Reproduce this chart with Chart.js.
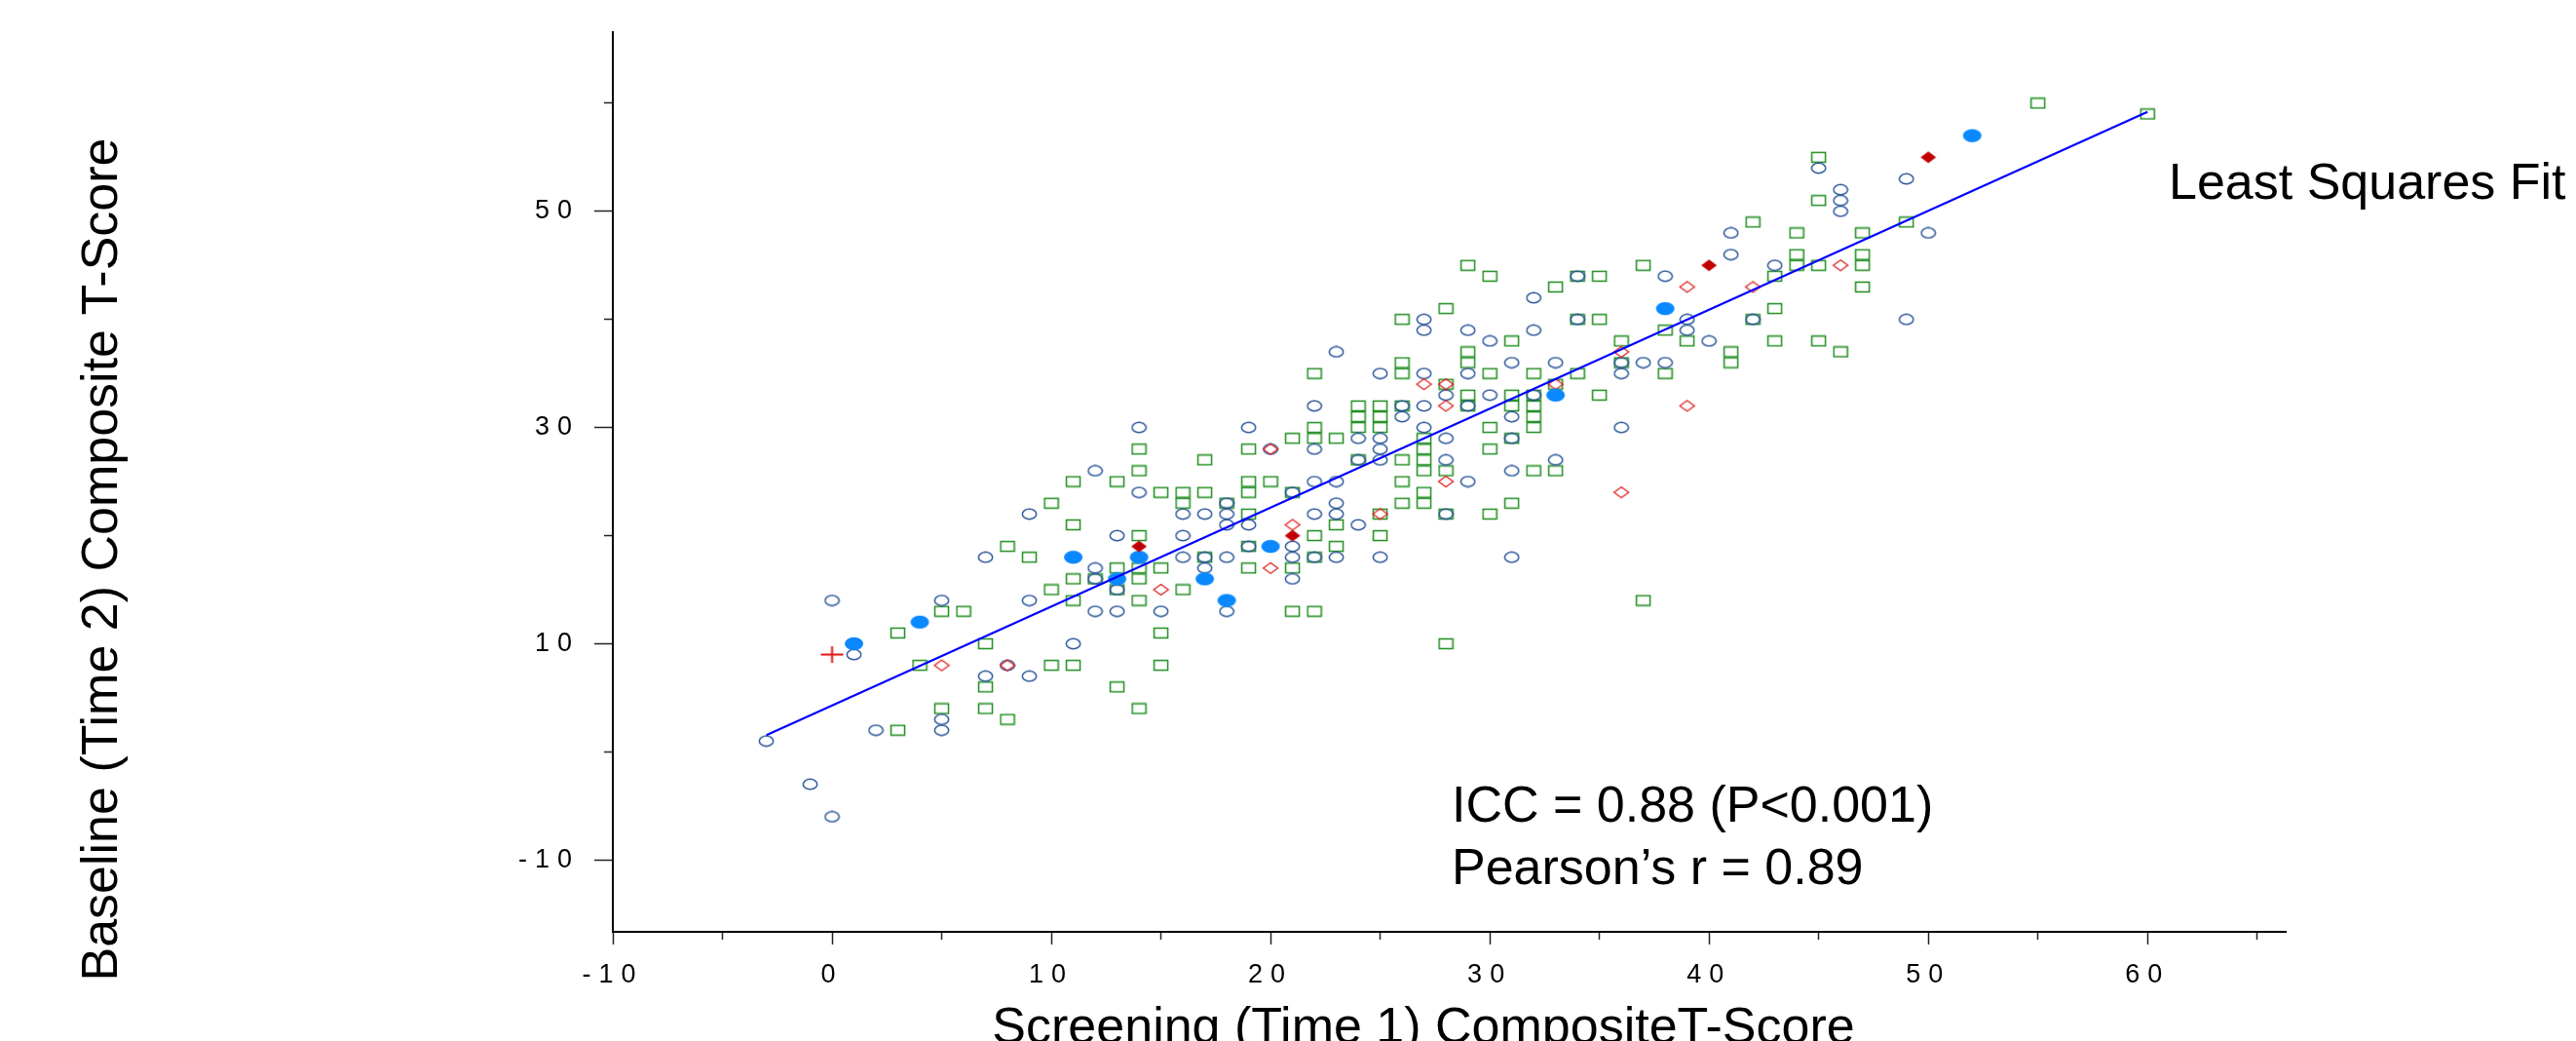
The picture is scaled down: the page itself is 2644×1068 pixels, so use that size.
<!DOCTYPE html>
<html>
<head>
<meta charset="utf-8">
<script src="https://cdn.jsdelivr.net/npm/chart.js@4.4.1/dist/chart.umd.min.js"></script>
<style>
html,body{margin:0;padding:0;background:#fff;overflow:hidden}
#wrap{width:2644px;height:1068px}
</style>
</head>
<body>
<div id="wrap"><canvas id="chart" width="2644" height="1068"></canvas></div>
<script>
// ─── DATA (x = screening T-score, y = baseline T-score) ───
const openCircles = [
  [-3,1],[-1,-3],[0,-6],[0,14],[1,9],[2,2],[5,2],[5,3],[5,14],[7,7],[7,18],[8,8],[9,7],
  [9,22],[9,14],[11,10],[12,26],[12,17],[12,16],[12,13],[13,20],[13,15],[13,13],[14,30],[14,24],
  [15,13],[16,22],[16,20],[16,18],[17,22],[17,18],[17,17],[18,23],[18,22],[18,21],[18,18],[18,13],
  [19,30],[19,21],[19,19],[20,28],[21,24],[21,19],[21,18],[21,16],[22,32],[22,28],[22,25],[22,22],[22,18],
  [23,37],[23,25],[23,23],[23,22],[23,18],[24,29],[24,27],[24,21],[25,35],[25,29],[25,28],[25,27],[25,18],
  [26,32],[26,31],[27,40],[27,39],[27,35],[27,32],[27,30],[28,33],[28,29],[28,27],[28,22],
  [29,39],[29,35],[29,32],[29,25],[30,38],[30,33],[31,36],[31,31],[31,29],[31,26],[31,18],
  [32,42],[32,39],[32,33],[33,36],[33,27],[34,40],[34,44],[36,36],[36,35],[36,30],[37,36],[38,36],[38,44],
  [39,40],[39,39],[40,38],[41,48],[41,46],[42,40],[43,45],[45,54],[46,52],[46,51],[46,50],[49,53],[49,40],[50,48]
];
const openSquares = [
  [3,2],[3,11],[4,8],[5,4],[5,13],[6,13],[7,4],[7,6],[7,10],[8,3],[10,8],[11,8],[13,6],[14,4],[15,8],
  [8,19],[9,18],[10,23],[10,15],[11,25],[11,21],[11,16],[11,14],[12,16],[13,25],[13,17],[13,15],
  [14,28],[14,26],[14,20],[14,17],[14,16],[14,14],[15,24],[15,17],[15,11],[16,24],[16,23],[16,15],
  [17,27],[17,24],[17,18],[18,23],[19,28],[19,25],[19,24],[19,22],[19,19],[19,17],[20,25],
  [21,29],[21,24],[21,17],[21,13],[22,35],[22,30],[22,29],[22,20],[22,18],[22,13],[23,29],[23,21],[23,19],
  [24,32],[24,31],[24,30],[24,27],[25,32],[25,31],[25,30],[25,22],[25,20],
  [26,40],[26,36],[26,35],[26,32],[26,27],[26,25],[26,23],[27,29],[27,28],[27,27],[27,26],[27,24],[27,23],
  [28,41],[28,34],[28,26],[28,22],[28,10],[29,45],[29,37],[29,36],[29,33],[29,32],
  [30,44],[30,35],[30,30],[30,28],[30,22],[31,38],[31,33],[31,32],[31,29],[31,23],
  [32,35],[32,33],[32,32],[32,31],[32,30],[32,26],[33,43],[33,34],[33,26],[34,44],[34,40],[34,35],
  [35,44],[35,40],[35,33],[36,38],[36,36],[37,45],[37,14],[38,39],[38,35],[39,38],[41,37],[41,36],
  [42,49],[42,40],[43,44],[43,41],[43,38],[44,48],[44,46],[44,45],[45,55],[45,51],[45,45],[45,38],[46,37],
  [47,48],[47,46],[47,45],[47,43],[49,49],[55,60],[60,59]
];
const openDiamonds = [
  [5,8],[8,8],[15,15],[20,17],[20,28],[21,21],[25,22],[27,34],[28,34],[28,32],[28,25],
  [33,34],[36,37],[36,24],[39,32],[39,43],[42,43],[46,45]
];
const filledDiamonds = [[14,19],[21,20],[40,45],[50,55]];
const filledCircles = [[1,10],[4,12],[11,18],[13,16],[14,18],[17,16],[18,14],[20,19],[33,33],[38,41],[52,57]];
const plusPoints = [[0,9]];
const fitLineX = [-3, 60];
const fitLineY = [1.55, 59.2];

const xTickRange = [-10, 66.3];
const yTickRange = [-16.65, 66.57];

const titleX = 'Screening (Time 1) CompositeT-Score';
const titleY = 'Baseline (Time 2) Composite T-Score';
const fitLabel = 'Least Squares Fit';
const statLines = ['ICC = 0.88 (P<0.001)', 'Pearson\u2019s r = 0.89'];

const FONT = '"Liberation Sans", Arial, Helvetica, sans-serif';

// ─── MARKERS ───
function makeMarker(w, h, paint) {
  const c = document.createElement('canvas');
  c.width = w; c.height = h;
  paint(c.getContext('2d'), w, h);
  return c;
}
const circleMk = makeMarker(17, 13, (g, w, h) => {
  g.strokeStyle = '#2a5599'; g.lineWidth = 1.5;
  g.beginPath(); g.ellipse(w/2, h/2, 7.2, 5.2, 0, 0, Math.PI*2); g.stroke();
});
const squareMk = makeMarker(17, 13, g => {
  g.strokeStyle = '#1c8c1c'; g.lineWidth = 1.5;
  g.strokeRect(1.5, 1.5, 14, 10);
});
const diamondMk = makeMarker(18, 14, g => {
  g.strokeStyle = '#e02020'; g.lineWidth = 1.3;
  g.beginPath(); g.moveTo(9,1.5); g.lineTo(16.5,7); g.lineTo(9,12.5); g.lineTo(1.5,7); g.closePath(); g.stroke();
});
const diamondFillMk = makeMarker(18, 14, g => {
  g.fillStyle = '#c00000';
  g.beginPath(); g.moveTo(9,1); g.lineTo(17,7); g.lineTo(9,13); g.lineTo(1,7); g.closePath(); g.fill();
});
const circleFillMk = makeMarker(21, 15, (g, w, h) => {
  g.fillStyle = '#0a88ff';
  g.beginPath(); g.ellipse(w/2, h/2, 9.5, 6.7, 0, 0, Math.PI*2); g.fill();
});
const plusMk = makeMarker(25, 19, g => {
  g.strokeStyle = '#e01010'; g.lineWidth = 2;
  g.beginPath(); g.moveTo(1,9.5); g.lineTo(24,9.5); g.moveTo(12.5,1); g.lineTo(12.5,18); g.stroke();
});

const toXY = arr => arr.map(([x, y]) => ({x, y}));
const pts = (data, style) => ({
  type: 'scatter', data: toXY(data), pointStyle: style, pointRadius: 7, pointHoverRadius: 7,
  borderWidth: 0, showLine: false
});

// ─── TEXT / TICK STYLING ───
const textPlugin = {
  id: 'texts',
  afterDatasetsDraw(chart) { chart.ctx.letterSpacing = '8px'; },
  afterDraw(chart) {
    const ctx = chart.ctx;
    ctx.letterSpacing = '0px';
    ctx.save();
    ctx.fillStyle = '#000';
    ctx.font = `52px ${FONT}`;
    ctx.textBaseline = 'alphabetic';
    ctx.textAlign = 'left';
    ctx.fillText(fitLabel, 2226, 204);
    ctx.fillText(statLines[0], 1490, 843);
    ctx.fillText(statLines[1], 1490, 907);
    ctx.textAlign = 'center';
    ctx.fillText(titleX, 1461, 1070);
    ctx.translate(120, 574);
    ctx.rotate(-Math.PI / 2);
    ctx.fillText(titleY, 0, 0);
    ctx.restore();
  }
};

const tickFont = {family: FONT, size: 27};

new Chart(document.getElementById('chart').getContext('2d'), {
  data: {
    datasets: [
      {type: 'scatter', data: fitLineX.map((x, i) => ({x, y: fitLineY[i]})), showLine: true,
       borderColor: '#0000ff', borderWidth: 2.2, pointRadius: 0, fill: false},
      pts(plusPoints, plusMk),
      pts(filledDiamonds, diamondFillMk),
      pts(filledCircles, circleFillMk),
      pts(openDiamonds, diamondMk),
      pts(openCircles, circleMk),
      pts(openSquares, squareMk)
    ]
  },
  options: {
    responsive: false, animation: false, events: [],
    layout: {padding: {top: 33, right: 298, left: 0, bottom: 0}},
    plugins: {legend: {display: false}, tooltip: {enabled: false}},
    scales: {
      x: {
        type: 'linear', position: 'bottom', min: xTickRange[0], max: xTickRange[1],
        border: {display: true, color: '#000', width: 2},
        grid: {display: true, drawOnChartArea: false, drawTicks: true, tickLength: 13,
               tickColor: '#222', tickWidth: 1.5,
               tickBorderDash: c => (c.tick && c.tick.value % 10 !== 0) ? [7, 100] : []},
        ticks: {stepSize: 5, includeBounds: false, autoSkip: false, maxRotation: 0, padding: 15,
                color: '#000', font: tickFont, z: 1,
                callback: v => v % 10 === 0 ? String(v) : ''},
        afterFit: s => { s.height = 112; }
      },
      y: {
        type: 'linear', position: 'left', min: yTickRange[0], max: yTickRange[1],
        border: {display: true, color: '#000', width: 2},
        grid: {display: true, drawOnChartArea: false, drawTicks: true, tickLength: 19,
               tickColor: '#222', tickWidth: 1.5,
               tickBorderDash: c => (c.tick && (c.tick.value + 10) % 20 !== 0) ? [0, 10, 9, 100] : []},
        ticks: {stepSize: 10, includeBounds: false, autoSkip: false, padding: 15,
                color: '#000', font: tickFont, z: 1,
                callback: v => (v + 10) % 20 === 0 ? String(v) : ''},
        afterFit: s => { s.width = 629; }
      }
    }
  },
  plugins: [textPlugin]
});
</script>
</body>
</html>
